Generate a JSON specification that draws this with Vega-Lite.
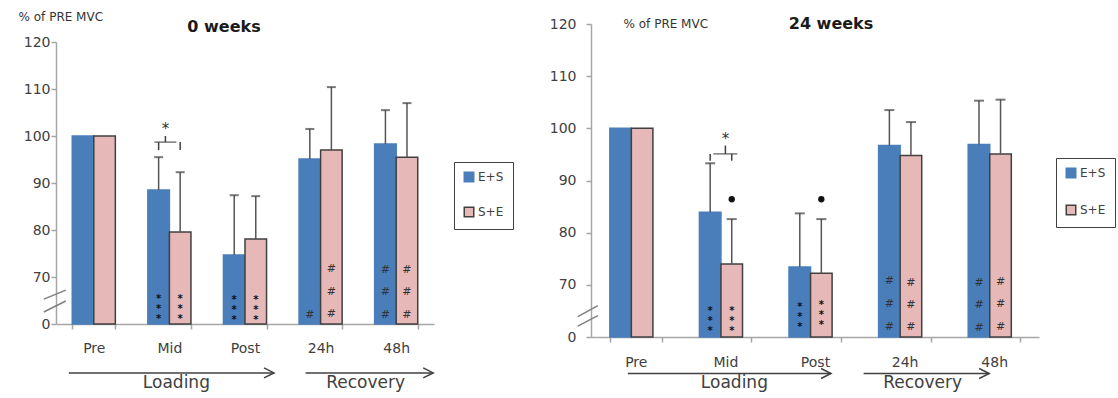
{
"$schema":"https://vega.github.io/schema/vega-lite/v6.json",
"padding":{"left":18,"top":11,"right":0,"bottom":0},
"background":"white",
"bounds":"flush",
"spacing":157,
"config":{
 "font":"DejaVu Sans",
 "view":{"stroke":null},
 "axis":{"grid":false,"domainColor":"#a6a6a6","tickColor":"#a6a6a6","domainWidth":1.5,"tickWidth":1.5,"tickSize":5,"labelColor":"#404040","labelFontSize":14,"labelFont":"DejaVu Sans"},
 "legend":{"labelFont":"DejaVu Sans"}
},
"resolve":{"scale":{"x":"independent","y":"independent","color":"independent","stroke":"independent"},"legend":{"color":"independent","stroke":"independent"}},
"datasets":{
 "b0":[
  {"cat":"Pre","grp":"E+S","v":100,"hi":null},
  {"cat":"Pre","grp":"S+E","v":100,"hi":null},
  {"cat":"Mid","grp":"E+S","v":88.5,"hi":95.5},
  {"cat":"Mid","grp":"S+E","v":79.6,"hi":92.3},
  {"cat":"Post","grp":"E+S","v":74.7,"hi":87.4},
  {"cat":"Post","grp":"S+E","v":78.1,"hi":87.2},
  {"cat":"24h","grp":"E+S","v":95.1,"hi":101.5},
  {"cat":"24h","grp":"S+E","v":97.0,"hi":110.4},
  {"cat":"48h","grp":"E+S","v":98.3,"hi":105.5},
  {"cat":"48h","grp":"S+E","v":95.5,"hi":107.0}
 ],
 "a0":[
  {"cat":"Mid","grp":"E+S","v":65.96,"kind":"star","sym":"*\n*\n*"},
  {"cat":"Mid","grp":"S+E","v":65.96,"kind":"star","sym":"*\n*\n*"},
  {"cat":"Post","grp":"E+S","v":65.7,"kind":"star","sym":"*\n*\n*"},
  {"cat":"Post","grp":"S+E","v":65.7,"kind":"star","sym":"*\n*\n*"},
  {"cat":"24h","grp":"E+S","v":61.9,"kind":"hash","sym":"#"},
  {"cat":"24h","grp":"S+E","v":71.7,"kind":"hash","sym":"#"},{"cat":"24h","grp":"S+E","v":66.8,"kind":"hash","sym":"#"},{"cat":"24h","grp":"S+E","v":62.1,"kind":"hash","sym":"#"},
  {"cat":"48h","grp":"E+S","v":71.5,"kind":"hash","sym":"#"},{"cat":"48h","grp":"E+S","v":66.8,"kind":"hash","sym":"#"},{"cat":"48h","grp":"E+S","v":61.9,"kind":"hash","sym":"#"},
  {"cat":"48h","grp":"S+E","v":71.5,"kind":"hash","sym":"#"},{"cat":"48h","grp":"S+E","v":66.8,"kind":"hash","sym":"#"},{"cat":"48h","grp":"S+E","v":61.9,"kind":"hash","sym":"#"}
 ],
 "b24":[
  {"cat":"Pre","grp":"E+S","v":100,"hi":null},
  {"cat":"Pre","grp":"S+E","v":100,"hi":null},
  {"cat":"Mid","grp":"E+S","v":83.9,"hi":93.3},
  {"cat":"Mid","grp":"S+E","v":74.0,"hi":82.6},
  {"cat":"Post","grp":"E+S","v":73.4,"hi":83.7},
  {"cat":"Post","grp":"S+E","v":72.2,"hi":82.6},
  {"cat":"24h","grp":"E+S","v":96.7,"hi":103.5},
  {"cat":"24h","grp":"S+E","v":94.8,"hi":101.2},
  {"cat":"48h","grp":"E+S","v":96.9,"hi":105.3},
  {"cat":"48h","grp":"S+E","v":95.1,"hi":105.5}
 ],
 "a24":[
  {"cat":"Mid","grp":"E+S","v":65.6,"kind":"star","sym":"*\n*\n*"},
  {"cat":"Mid","grp":"S+E","v":65.6,"kind":"star","sym":"*\n*\n*"},
  {"cat":"Post","grp":"E+S","v":66.4,"kind":"star","sym":"*\n*\n*"},
  {"cat":"Post","grp":"S+E","v":66.8,"kind":"star","sym":"*\n*\n*"},
  {"cat":"24h","grp":"E+S","v":70.7,"kind":"hash","sym":"#"},{"cat":"24h","grp":"E+S","v":66.3,"kind":"hash","sym":"#"},{"cat":"24h","grp":"E+S","v":61.9,"kind":"hash","sym":"#"},
  {"cat":"24h","grp":"S+E","v":70.4,"kind":"hash","sym":"#"},{"cat":"24h","grp":"S+E","v":66.2,"kind":"hash","sym":"#"},{"cat":"24h","grp":"S+E","v":61.9,"kind":"hash","sym":"#"},
  {"cat":"48h","grp":"E+S","v":70.3,"kind":"hash","sym":"#"},{"cat":"48h","grp":"E+S","v":66.1,"kind":"hash","sym":"#"},{"cat":"48h","grp":"E+S","v":61.7,"kind":"hash","sym":"#"},
  {"cat":"48h","grp":"S+E","v":70.6,"kind":"hash","sym":"#"},{"cat":"48h","grp":"S+E","v":66.4,"kind":"hash","sym":"#"},{"cat":"48h","grp":"S+E","v":62.0,"kind":"hash","sym":"#"},
  {"cat":"Mid","grp":"S+E","v":86.4,"kind":"dot","sym":"•"},{"cat":"Post","grp":"S+E","v":86.4,"kind":"dot","sym":"•"}
 ]
},
"hconcat":[
{
 "width":378,"height":300,
 "layer":[
  {"data":{"name":"b0"},"mark":{"type":"bar","strokeWidth":1.5},
   "encoding":{
    "x":{"field":"cat","type":"nominal","sort":["Pre","Mid","Post","24h","48h"],"scale":{"domain":["Pre","Mid","Post","24h","48h"],"paddingInner":0.43,"paddingOuter":0.215},"axis":{"title":null,"tickBand":"extent","labelPadding":12,"labelAngle":0}},
    "xOffset":{"field":"grp","type":"nominal","sort":["E+S","S+E"],"scale":{"paddingInner":0,"paddingOuter":0}},
    "y":{"field":"v","type":"quantitative","scale":{"domain":[60,120],"range":[300,18],"zero":false,"nice":false},"axis":{"title":null,"values":[60,70,80,90,100,110,120],"labelExpr":"datum.value == 60 ? '0' : datum.label","labelPadding":1}},
    "y2":{"datum":60},
    "color":{"field":"grp","type":"nominal","scale":{"domain":["E+S","S+E"],"range":["#4a7ebb","#e6b9b8"]},"legend":{"orient":"none","legendX":398,"legendY":138,"title":null,"strokeColor":"#404040","padding":9,"rowPadding":19,"symbolType":"square","symbolSize":90,"symbolStrokeWidth":1.5,"labelFontSize":12,"labelColor":"#404040","labelOffset":3}},
    "stroke":{"field":"grp","type":"nominal","scale":{"domain":["E+S","S+E"],"range":["#4a7ebb","#404040"]},"legend":{"orient":"none","legendX":398,"legendY":138,"title":null,"strokeColor":"#404040","padding":9,"rowPadding":19,"symbolType":"square","symbolSize":90,"symbolStrokeWidth":1.5,"labelFontSize":12,"labelColor":"#404040","labelOffset":3}}
   }},
  {"data":{"name":"b0"},"transform":[{"filter":"datum.hi != null"}],"mark":{"type":"rule","color":"#555555","strokeWidth":1.5},
   "encoding":{"x":{"field":"cat","type":"nominal","sort":["Pre","Mid","Post","24h","48h"]},"xOffset":{"field":"grp","type":"nominal","sort":["E+S","S+E"]},"y":{"field":"v","type":"quantitative"},"y2":{"field":"hi"}}},
  {"data":{"name":"b0"},"transform":[{"filter":"datum.hi != null"}],"mark":{"type":"tick","orient":"horizontal","size":9,"thickness":2,"color":"#404040"},
   "encoding":{"x":{"field":"cat","type":"nominal","sort":["Pre","Mid","Post","24h","48h"]},"xOffset":{"field":"grp","type":"nominal","sort":["E+S","S+E"]},"y":{"field":"hi","type":"quantitative"}}},
  {"data":{"name":"a0"},"transform":[{"filter":"datum.kind == 'star'"}],"mark":{"type":"text","fontSize":10,"fontWeight":"bold","color":"#111111","baseline":"middle","dy":3,"lineBreak":"\n","lineHeight":10},
   "encoding":{"x":{"field":"cat","type":"nominal","sort":["Pre","Mid","Post","24h","48h"]},"xOffset":{"field":"grp","type":"nominal","sort":["E+S","S+E"]},"y":{"field":"v","type":"quantitative"},"text":{"field":"sym"}}},
  {"data":{"name":"a0"},"transform":[{"filter":"datum.kind == 'hash'"}],"mark":{"type":"text","fontSize":11,"color":"#333333","baseline":"middle"},
   "encoding":{"x":{"field":"cat","type":"nominal","sort":["Pre","Mid","Post","24h","48h"]},"xOffset":{"field":"grp","type":"nominal","sort":["E+S","S+E"]},"y":{"field":"v","type":"quantitative"},"text":{"field":"sym"}}},
  {"data":{"values":[{"cat":"Mid","v":98.7}]},"mark":{"type":"tick","orient":"horizontal","size":22,"thickness":1.5,"color":"#404040","xOffset":-4},
   "encoding":{"x":{"field":"cat","type":"nominal","sort":["Pre","Mid","Post","24h","48h"]},"y":{"field":"v","type":"quantitative"}}},
  {"data":{"values":[{"cat":"Mid","grp":"E+S","y1":98.7,"y2":97.0},{"cat":"Mid","grp":"S+E","y1":98.7,"y2":97.0}]},"mark":{"type":"rule","color":"#404040","strokeWidth":1.5,"xOffset":-4},
   "encoding":{"x":{"field":"cat","type":"nominal","sort":["Pre","Mid","Post","24h","48h"]},"xOffset":{"field":"grp","type":"nominal","sort":["E+S","S+E"]},"y":{"field":"y1","type":"quantitative"},"y2":{"field":"y2"}}},
  {"data":{"values":[{"cat":"Mid","y1":98.7,"y2":100.0}]},"mark":{"type":"rule","color":"#404040","strokeWidth":1.5,"xOffset":-4},
   "encoding":{"x":{"field":"cat","type":"nominal","sort":["Pre","Mid","Post","24h","48h"]},"y":{"field":"y1","type":"quantitative"},"y2":{"field":"y2"}}},
  {"data":{"values":[{"cat":"Mid","star":102.3,"t":"*"}]},"mark":{"type":"text","fontSize":15,"color":"#333333","baseline":"middle","dy":4,"dx":-4},
   "encoding":{"x":{"field":"cat","type":"nominal","sort":["Pre","Mid","Post","24h","48h"]},"y":{"field":"star","type":"quantitative"},"text":{"field":"t"}}},
  {"data":{"values":[{"cat":"Pre","y1":65.3,"y2":67.2},{"cat":"Pre","y1":62.55,"y2":64.9}]},"mark":{"type":"rule","color":"#7f7f7f","strokeWidth":1.5,"xOffset":-50,"x2Offset":-28},
   "encoding":{"x":{"field":"cat","type":"nominal","sort":["Pre","Mid","Post","24h","48h"]},"x2":{"field":"cat"},"y":{"field":"y1","type":"quantitative"},"y2":{"field":"y2"}}},
  {"data":{"values":[{"label":"Loading","from":"Pre","to":"Post","ya":49.6}]},"mark":{"type":"rule","color":"#404040","strokeWidth":1.5,"xOffset":-25,"x2Offset":29},
   "encoding":{"x":{"field":"from","type":"nominal","sort":["Pre","Mid","Post","24h","48h"]},"x2":{"field":"to"},"y":{"field":"ya","type":"quantitative"}}},
  {"data":{"values":[{"label":"Loading","from":"Pre","to":"Post","ya":49.6}]},"mark":{"type":"point","shape":"M-1,-0.5L0,0L-1,0.5","filled":false,"size":400,"stroke":"#404040","strokeWidth":1.5,"opacity":1,"xOffset":29},
   "encoding":{"x":{"field":"to","type":"nominal","sort":["Pre","Mid","Post","24h","48h"]},"y":{"field":"ya","type":"quantitative"}}},
  {"data":{"values":[{"label":"Loading","cat":"Mid","yt":47.4}]},"mark":{"type":"text","fontSize":17,"color":"#404040","baseline":"middle","dx":7},
   "encoding":{"x":{"field":"cat","type":"nominal","sort":["Pre","Mid","Post","24h","48h"]},"y":{"field":"yt","type":"quantitative"},"text":{"field":"label"}}},
  {"data":{"values":[{"label":"Recovery","from":"24h","to":"48h","ya":49.6}]},"mark":{"type":"rule","color":"#404040","strokeWidth":1.5,"xOffset":-15,"x2Offset":37},
   "encoding":{"x":{"field":"from","type":"nominal","sort":["Pre","Mid","Post","24h","48h"]},"x2":{"field":"to"},"y":{"field":"ya","type":"quantitative"}}},
  {"data":{"values":[{"label":"Recovery","from":"24h","to":"48h","ya":49.6}]},"mark":{"type":"point","shape":"M-1,-0.5L0,0L-1,0.5","filled":false,"size":400,"stroke":"#404040","strokeWidth":1.5,"opacity":1,"xOffset":37},
   "encoding":{"x":{"field":"to","type":"nominal","sort":["Pre","Mid","Post","24h","48h"]},"y":{"field":"ya","type":"quantitative"}}},
  {"data":{"values":[{"label":"Recovery","cat":"24h","yt":47.4}]},"mark":{"type":"text","fontSize":17,"color":"#404040","baseline":"middle","dx":45},
   "encoding":{"x":{"field":"cat","type":"nominal","sort":["Pre","Mid","Post","24h","48h"]},"y":{"field":"yt","type":"quantitative"},"text":{"field":"label"}}},
  {"data":{"values":[{"t":"% of PRE MVC","cat":"Pre","v":125.3}]},"mark":{"type":"text","fontSize":12,"color":"#333333","baseline":"middle","dx":-33},
   "encoding":{"x":{"field":"cat","type":"nominal","sort":["Pre","Mid","Post","24h","48h"]},"y":{"field":"v","type":"quantitative"},"text":{"field":"t"}}},
  {"data":{"values":[{"t":"0 weeks","cat":"Post","v":123.2}]},"mark":{"type":"text","fontSize":16,"fontWeight":"bold","color":"#1a1a1a","baseline":"middle","dx":-21},
   "encoding":{"x":{"field":"cat","type":"nominal","sort":["Pre","Mid","Post","24h","48h"]},"y":{"field":"v","type":"quantitative"},"text":{"field":"t"}}}
 ]
},
{
 "width":448,"height":313,
 "layer":[
  {"data":{"name":"b24"},"mark":{"type":"bar","strokeWidth":1.5},
   "encoding":{
    "x":{"field":"cat","type":"nominal","sort":["Pre","Mid","Post","24h","48h"],"scale":{"domain":["Pre","Mid","Post","24h","48h"],"paddingInner":0.42,"paddingOuter":0.21},"axis":{"title":null,"tickBand":"extent","labelPadding":13,"labelAngle":0}},
    "xOffset":{"field":"grp","type":"nominal","sort":["E+S","S+E"],"scale":{"paddingInner":0,"paddingOuter":0}},
    "y":{"field":"v","type":"quantitative","scale":{"domain":[60,120],"zero":false,"nice":false},"axis":{"title":null,"values":[60,70,80,90,100,110,120],"labelExpr":"datum.value == 60 ? '0' : datum.label","labelPadding":10}},
    "y2":{"datum":60},
    "color":{"field":"grp","type":"nominal","scale":{"domain":["E+S","S+E"],"range":["#4a7ebb","#e6b9b8"]},"legend":{"orient":"none","legendX":465,"legendY":134,"title":null,"strokeColor":"#404040","padding":9,"rowPadding":21,"symbolType":"square","symbolSize":90,"symbolStrokeWidth":1.5,"labelFontSize":12,"labelColor":"#404040","labelOffset":3}},
    "stroke":{"field":"grp","type":"nominal","scale":{"domain":["E+S","S+E"],"range":["#4a7ebb","#404040"]},"legend":{"orient":"none","legendX":465,"legendY":134,"title":null,"strokeColor":"#404040","padding":9,"rowPadding":21,"symbolType":"square","symbolSize":90,"symbolStrokeWidth":1.5,"labelFontSize":12,"labelColor":"#404040","labelOffset":3}}
   }},
  {"data":{"name":"b24"},"transform":[{"filter":"datum.hi != null"}],"mark":{"type":"rule","color":"#555555","strokeWidth":1.5},
   "encoding":{"x":{"field":"cat","type":"nominal","sort":["Pre","Mid","Post","24h","48h"]},"xOffset":{"field":"grp","type":"nominal","sort":["E+S","S+E"]},"y":{"field":"v","type":"quantitative"},"y2":{"field":"hi"}}},
  {"data":{"name":"b24"},"transform":[{"filter":"datum.hi != null"}],"mark":{"type":"tick","orient":"horizontal","size":10,"thickness":2,"color":"#404040"},
   "encoding":{"x":{"field":"cat","type":"nominal","sort":["Pre","Mid","Post","24h","48h"]},"xOffset":{"field":"grp","type":"nominal","sort":["E+S","S+E"]},"y":{"field":"hi","type":"quantitative"}}},
  {"data":{"name":"a24"},"transform":[{"filter":"datum.kind == 'star'"}],"mark":{"type":"text","fontSize":10,"fontWeight":"bold","color":"#111111","baseline":"middle","dy":3,"lineBreak":"\n","lineHeight":10},
   "encoding":{"x":{"field":"cat","type":"nominal","sort":["Pre","Mid","Post","24h","48h"]},"xOffset":{"field":"grp","type":"nominal","sort":["E+S","S+E"]},"y":{"field":"v","type":"quantitative"},"text":{"field":"sym"}}},
  {"data":{"name":"a24"},"transform":[{"filter":"datum.kind == 'hash'"}],"mark":{"type":"text","fontSize":11,"color":"#333333","baseline":"middle"},
   "encoding":{"x":{"field":"cat","type":"nominal","sort":["Pre","Mid","Post","24h","48h"]},"xOffset":{"field":"grp","type":"nominal","sort":["E+S","S+E"]},"y":{"field":"v","type":"quantitative"},"text":{"field":"sym"}}},
  {"data":{"name":"a24"},"transform":[{"filter":"datum.kind == 'dot'"}],"mark":{"type":"point","shape":"circle","filled":true,"size":40,"color":"#111111","opacity":1},
   "encoding":{"x":{"field":"cat","type":"nominal","sort":["Pre","Mid","Post","24h","48h"]},"xOffset":{"field":"grp","type":"nominal","sort":["E+S","S+E"]},"y":{"field":"v","type":"quantitative"}}},
  {"data":{"values":[{"cat":"Mid","v":95.1}]},"mark":{"type":"tick","orient":"horizontal","size":24,"thickness":1.5,"color":"#404040"},
   "encoding":{"x":{"field":"cat","type":"nominal","sort":["Pre","Mid","Post","24h","48h"]},"y":{"field":"v","type":"quantitative"}}},
  {"data":{"values":[{"cat":"Mid","grp":"E+S","y1":95.1,"y2":93.8},{"cat":"Mid","grp":"S+E","y1":95.1,"y2":93.8}]},"mark":{"type":"rule","color":"#404040","strokeWidth":1.5},
   "encoding":{"x":{"field":"cat","type":"nominal","sort":["Pre","Mid","Post","24h","48h"]},"xOffset":{"field":"grp","type":"nominal","sort":["E+S","S+E"]},"y":{"field":"y1","type":"quantitative"},"y2":{"field":"y2"}}},
  {"data":{"values":[{"cat":"Mid","y1":95.1,"y2":96.7}]},"mark":{"type":"rule","color":"#404040","strokeWidth":1.5},
   "encoding":{"x":{"field":"cat","type":"nominal","sort":["Pre","Mid","Post","24h","48h"]},"y":{"field":"y1","type":"quantitative"},"y2":{"field":"y2"}}},
  {"data":{"values":[{"cat":"Mid","star":98.8,"t":"*"}]},"mark":{"type":"text","fontSize":15,"color":"#333333","baseline":"middle","dy":4},
   "encoding":{"x":{"field":"cat","type":"nominal","sort":["Pre","Mid","Post","24h","48h"]},"y":{"field":"star","type":"quantitative"},"text":{"field":"t"}}},
  {"data":{"values":[{"cat":"Pre","y1":63.9,"y2":66.0},{"cat":"Pre","y1":62.1,"y2":64.1}]},"mark":{"type":"rule","color":"#7f7f7f","strokeWidth":1.5,"xOffset":-58,"x2Offset":-38},
   "encoding":{"x":{"field":"cat","type":"nominal","sort":["Pre","Mid","Post","24h","48h"]},"x2":{"field":"cat"},"y":{"field":"y1","type":"quantitative"},"y2":{"field":"y2"}}},
  {"data":{"values":[{"label":"Loading","from":"Pre","to":"Post","ya":53.0}]},"mark":{"type":"rule","color":"#404040","strokeWidth":1.5,"xOffset":-8,"x2Offset":16},
   "encoding":{"x":{"field":"from","type":"nominal","sort":["Pre","Mid","Post","24h","48h"]},"x2":{"field":"to"},"y":{"field":"ya","type":"quantitative"}}},
  {"data":{"values":[{"label":"Loading","from":"Pre","to":"Post","ya":53.0}]},"mark":{"type":"point","shape":"M-1,-0.5L0,0L-1,0.5","filled":false,"size":400,"stroke":"#404040","strokeWidth":1.5,"opacity":1,"xOffset":16},
   "encoding":{"x":{"field":"to","type":"nominal","sort":["Pre","Mid","Post","24h","48h"]},"y":{"field":"ya","type":"quantitative"}}},
  {"data":{"values":[{"label":"Loading","cat":"Mid","yt":51.1}]},"mark":{"type":"text","fontSize":17,"color":"#404040","baseline":"middle","dx":9},
   "encoding":{"x":{"field":"cat","type":"nominal","sort":["Pre","Mid","Post","24h","48h"]},"y":{"field":"yt","type":"quantitative"},"text":{"field":"label"}}},
  {"data":{"values":[{"label":"Recovery","from":"24h","to":"48h","ya":53.0}]},"mark":{"type":"rule","color":"#404040","strokeWidth":1.5,"xOffset":-41,"x2Offset":-5},
   "encoding":{"x":{"field":"from","type":"nominal","sort":["Pre","Mid","Post","24h","48h"]},"x2":{"field":"to"},"y":{"field":"ya","type":"quantitative"}}},
  {"data":{"values":[{"label":"Recovery","from":"24h","to":"48h","ya":53.0}]},"mark":{"type":"point","shape":"M-1,-0.5L0,0L-1,0.5","filled":false,"size":400,"stroke":"#404040","strokeWidth":1.5,"opacity":1,"xOffset":-5},
   "encoding":{"x":{"field":"to","type":"nominal","sort":["Pre","Mid","Post","24h","48h"]},"y":{"field":"ya","type":"quantitative"}}},
  {"data":{"values":[{"label":"Recovery","cat":"24h","yt":51.1}]},"mark":{"type":"text","fontSize":17,"color":"#404040","baseline":"middle","dx":18},
   "encoding":{"x":{"field":"cat","type":"nominal","sort":["Pre","Mid","Post","24h","48h"]},"y":{"field":"yt","type":"quantitative"},"text":{"field":"label"}}},
  {"data":{"values":[{"t":"% of PRE MVC","cat":"Pre","v":120}]},"mark":{"type":"text","fontSize":12,"color":"#333333","baseline":"middle","dx":30},
   "encoding":{"x":{"field":"cat","type":"nominal","sort":["Pre","Mid","Post","24h","48h"]},"y":{"field":"v","type":"quantitative"},"text":{"field":"t"}}},
  {"data":{"values":[{"t":"24 weeks","cat":"Post","v":120}]},"mark":{"type":"text","fontSize":16,"fontWeight":"bold","color":"#1a1a1a","baseline":"middle","dx":16},
   "encoding":{"x":{"field":"cat","type":"nominal","sort":["Pre","Mid","Post","24h","48h"]},"y":{"field":"v","type":"quantitative"},"text":{"field":"t"}}}
 ]
}
]
}
